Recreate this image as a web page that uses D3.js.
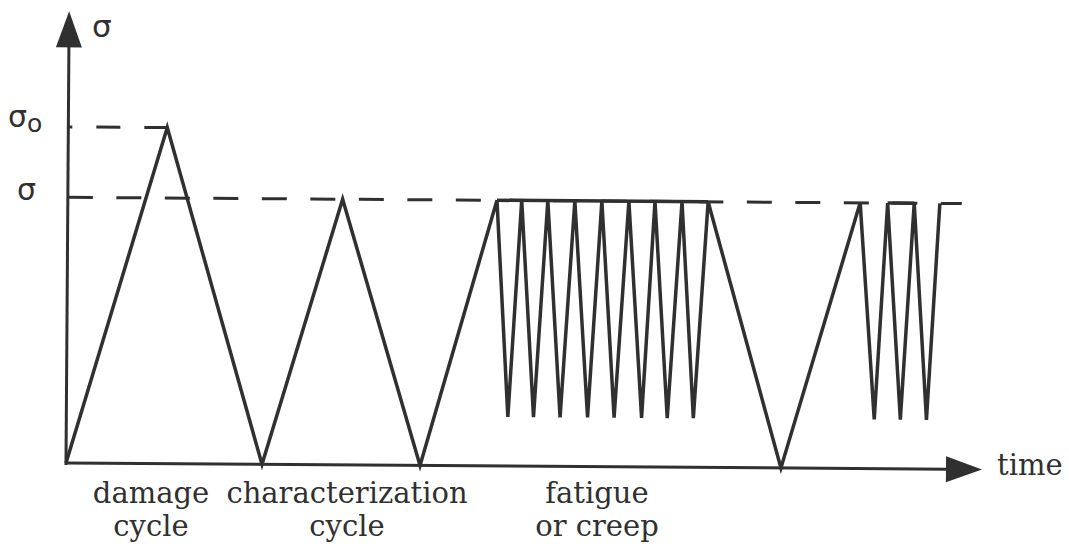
<!DOCTYPE html>
<html>
<head>
<meta charset="utf-8">
<script src="https://cdn.jsdelivr.net/npm/d3@7/dist/d3.min.js"></script>
<style>
  html, body { margin: 0; padding: 0; background: #fff; }
  svg { display: block; }
</style>
</head>
<body>
<svg id="chart" width="1069" height="549"></svg>
<script>
// Loading history: stress (in units of the test stress σ) against time (arbitrary units)
const timeValues = [
  0, 10.8, 21.4, 30.0, 38.65, 46.85,
  48.2, 49.55, 51.0, 52.4, 53.9, 55.35, 56.9, 58.3, 59.8, 61.25, 62.8, 64.1,
  65.6, 67.05, 68.45, 69.9,
  78.05, 86.5,
  88.2, 89.5, 91.05, 92.4, 93.9, 95.2
];
const stressValues = [
  0, 1.265, 0, 1, 0, 1,
  0.185, 1, 0.185, 1, 0.185, 1, 0.185, 1, 0.185, 1, 0.185, 1,
  0.185, 1, 0.185, 1,
  0, 1,
  0.185, 1, 0.185, 1, 0.185, 1
];

// Reference stress levels
const sigmaLevel = 1;
const sigma0Level = 1.265;
const sigmaLineEnd = 97.6;

// Intervals held at σ (flat tops)
const holdStarts = [46.85, 89.5];
const holdEnds = [69.9, 92.4];

// Phase captions below the time axis
const captionLines = [["damage", "cycle"], ["characterization", "cycle"], ["fatigue", "or creep"]];
const captionCentres = [151, 347, 597];

const timeDomain = [0, 100];
const stressDomain = [0, 1.7];

const ink = "#303030";
const svg = d3.select("#chart");

const x = d3.scaleLinear().domain(timeDomain).range([66, 982]);
const y = d3.scaleLinear().domain(stressDomain).range([463, 11.3]);

// The drawing sits at a slight tilt, like the printed figure
const plot = svg.append("g")
  .attr("transform", `rotate(0.4, ${x(0)}, ${y(0)})`);

// Dashed reference levels
plot.append("line")
  .attr("x1", x(0)).attr("x2", x(sigmaLineEnd))
  .attr("y1", y(sigmaLevel)).attr("y2", y(sigmaLevel))
  .attr("stroke", ink).attr("stroke-width", 3)
  .attr("stroke-dasharray", "25 23.5");

plot.append("line")
  .attr("x1", x(0)).attr("x2", x(timeValues[1]))
  .attr("y1", y(sigma0Level)).attr("y2", y(sigma0Level))
  .attr("stroke", ink).attr("stroke-width", 3)
  .attr("stroke-dasharray", "24 24")
  .attr("stroke-dashoffset", 20);

// Flat holds at σ
plot.selectAll("line.hold")
  .data(d3.range(holdStarts.length))
  .join("line")
  .attr("class", "hold")
  .attr("x1", i => x(holdStarts[i])).attr("x2", i => x(holdEnds[i]))
  .attr("y1", y(sigmaLevel)).attr("y2", y(sigmaLevel))
  .attr("stroke", ink).attr("stroke-width", 3.5);

// Stress history
const points = timeValues.map((t, i) => [t, stressValues[i]]);
plot.append("path")
  .datum(points)
  .attr("fill", "none")
  .attr("stroke", ink)
  .attr("stroke-width", 3.5)
  .attr("stroke-linejoin", "miter")
  .attr("d", d3.line().x(d => x(d[0])).y(d => y(d[1])));

// Axes with arrowheads
const arrowLen = 36, arrowHalf = 13;
plot.append("line")
  .attr("x1", x(0) - 1).attr("x2", x(timeDomain[1]) - arrowLen + 2)
  .attr("y1", y(0)).attr("y2", y(0))
  .attr("stroke", ink).attr("stroke-width", 3);
plot.append("path")
  .attr("fill", ink)
  .attr("d", `M${x(timeDomain[1])},${y(0)} L${x(timeDomain[1]) - arrowLen},${y(0) - arrowHalf} L${x(timeDomain[1]) - arrowLen},${y(0) + arrowHalf} Z`);

plot.append("line")
  .attr("x1", x(0)).attr("x2", x(0))
  .attr("y1", y(0) + 2).attr("y2", y(stressDomain[1]) + arrowLen - 2)
  .attr("stroke", ink).attr("stroke-width", 3);
plot.append("path")
  .attr("fill", ink)
  .attr("d", `M${x(0)},${y(stressDomain[1])} L${x(0) - arrowHalf},${y(stressDomain[1]) + arrowLen} L${x(0) + arrowHalf},${y(stressDomain[1]) + arrowLen} Z`);

// Axis and level labels
const sans = "'DejaVu Sans', sans-serif";
const serif = "'DejaVu Serif', serif";

svg.append("text")
  .attr("x", 92).attr("y", 37)
  .attr("font-family", sans).attr("font-size", 31).attr("fill", ink)
  .text("σ");

const s0 = svg.append("text")
  .attr("x", 8).attr("y", 127)
  .attr("font-family", sans).attr("font-size", 30).attr("fill", ink);
s0.append("tspan").text("σ");
s0.append("tspan").attr("font-size", 25).attr("dy", 5).text("o");

svg.append("text")
  .attr("x", 17).attr("y", 200)
  .attr("font-family", sans).attr("font-size", 30).attr("fill", ink)
  .text("σ");

svg.append("text")
  .attr("x", 997).attr("y", 475)
  .attr("font-family", serif).attr("font-size", 29).attr("fill", ink)
  .text("time");

// Phase captions
const cap = svg.selectAll("text.caption")
  .data(captionLines)
  .join("text")
  .attr("class", "caption")
  .attr("font-family", serif).attr("font-size", 29).attr("fill", ink)
  .attr("text-anchor", "middle");
cap.selectAll("tspan")
  .data((d, i) => d.map(s => ({ s, cx: captionCentres[i] })))
  .join("tspan")
  .attr("x", d => d.cx)
  .attr("y", (d, j) => j === 0 ? 503 : 536)
  .text(d => d.s);
</script>
</body>
</html>
